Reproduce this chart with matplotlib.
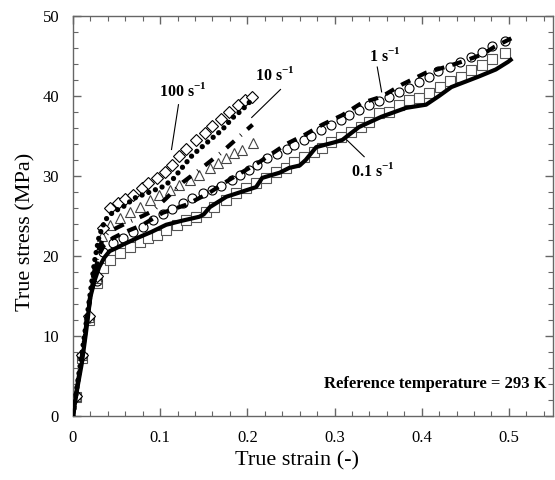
import matplotlib.pyplot as plt
from matplotlib.ticker import MultipleLocator

# experiment curves (lines)
exp01_x = [0, 0.005, 0.010, 0.015, 0.020, 0.025, 0.030, 0.036, 0.042, 0.050, 0.057, 0.065, 0.077, 0.090,
           0.107, 0.125, 0.145, 0.150, 0.157, 0.176, 0.200, 0.210, 0.217, 0.237, 0.248, 0.260, 0.267, 0.279,
           0.300, 0.309, 0.328, 0.354, 0.382, 0.405, 0.420, 0.434, 0.465, 0.485, 0.499, 0.502]
exp01_y = [0, 3.5, 6.5, 10.5, 14.9, 17.0, 18.6, 19.8, 20.6, 21.0, 21.4, 21.8, 22.4, 23.0,
           23.9, 24.4, 24.9, 25.2, 26.1, 27.4, 28.25, 28.6, 29.75, 30.4, 31.0, 31.3, 32.0, 33.6,
           34.2, 34.5, 36.1, 37.4, 38.5, 38.9, 40.0, 41.1, 42.4, 43.3, 44.25, 44.5]

exp1_x = [0, 0.005, 0.010, 0.015, 0.020, 0.025, 0.030, 0.036, 0.046, 0.060, 0.080, 0.103, 0.130, 0.155,
          0.179, 0.214, 0.245, 0.267, 0.286, 0.309, 0.331, 0.354, 0.377, 0.405, 0.427, 0.450, 0.470,
          0.483, 0.503]
exp1_y = [0, 3.8, 7.2, 11.0, 15.0, 18.0, 20.2, 21.4, 22.25, 23.0, 23.9, 25.4, 26.4, 27.8,
          29.5, 31.75, 34.0, 35.2, 36.4, 37.6, 39.1, 39.9, 41.4, 42.9, 43.6, 44.4, 45.2,
          46.1, 47.2]

exp10_x = [0, 0.005, 0.010, 0.015, 0.020, 0.025, 0.030, 0.035, 0.040, 0.050, 0.063, 0.080, 0.091,
           0.105, 0.126, 0.149, 0.170, 0.189, 0.206]
exp10_y = [0, 3.8, 7.3, 11.2, 15.2, 18.5, 21.0, 22.3, 22.9, 23.5, 24.2, 25.0, 25.6,
           27.0, 29.2, 31.1, 32.9, 34.75, 36.4]

exp100_x = [0, 0.005, 0.010, 0.015, 0.020, 0.025, 0.030, 0.037, 0.046, 0.057, 0.071, 0.086, 0.102,
            0.114, 0.125, 0.137, 0.160, 0.171, 0.183, 0.194, 0.205]
exp100_y = [0, 4.0, 7.6, 11.5, 15.5, 19.5, 22.5, 24.5, 25.5, 26.1, 27.25, 27.9, 28.6,
            29.5, 31.0, 32.6, 34.75, 35.75, 37.25, 38.25, 39.5]

# model curves (markers)
mod01_x = [0.003, 0.010, 0.018, 0.027, 0.035, 0.042, 0.054, 0.065, 0.077, 0.086, 0.096, 0.107, 0.119,
           0.130, 0.141, 0.153, 0.162, 0.176, 0.187, 0.199, 0.210, 0.221, 0.233, 0.244, 0.254, 0.265,
           0.276, 0.286, 0.296, 0.307, 0.319, 0.330, 0.339, 0.351, 0.362, 0.374, 0.385, 0.397, 0.408,
           0.421, 0.433, 0.445, 0.456, 0.469, 0.481, 0.496]
mod01_y = [2.4, 7.3, 12.0, 16.6, 18.5, 19.5, 20.4, 21.1, 21.8, 22.2, 22.6, 23.25, 23.9,
           24.5, 24.9, 25.5, 26.1, 27.0, 27.9, 28.5, 29.1, 29.75, 30.5, 31.0, 31.75, 32.4,
           33.0, 33.5, 34.25, 34.9, 35.5, 36.1, 36.75, 37.9, 38.0, 38.9, 39.5, 39.75, 40.4,
           41.1, 41.8, 42.4, 43.2, 43.9, 44.6, 45.3]

mod1_x = [0.003, 0.010, 0.018, 0.027, 0.034, 0.046, 0.057, 0.069, 0.080, 0.092, 0.103, 0.114, 0.126,
          0.137, 0.149, 0.159, 0.170, 0.182, 0.191, 0.202, 0.211, 0.223, 0.234, 0.245, 0.254, 0.265,
          0.273, 0.285, 0.296, 0.307, 0.317, 0.328, 0.339, 0.351, 0.362, 0.374, 0.385, 0.397, 0.408,
          0.419, 0.432, 0.444, 0.456, 0.469, 0.481, 0.496]
mod1_y = [2.5, 7.5, 12.3, 16.9, 20.5, 21.6, 22.3, 23.0, 23.6, 24.5, 25.2, 25.9, 26.6,
          27.25, 27.9, 28.3, 28.8, 29.5, 30.1, 30.75, 31.4, 32.2, 32.8, 33.3, 33.8, 34.5,
          35.0, 35.75, 36.4, 37.0, 37.6, 38.25, 38.9, 39.3, 39.9, 40.5, 41.0, 41.75, 42.4,
          43.1, 43.6, 44.25, 44.9, 45.5, 46.25, 46.9]

mod10_x = [0.003, 0.010, 0.018, 0.027, 0.033, 0.043, 0.054, 0.065, 0.077, 0.088, 0.099, 0.111, 0.122,
           0.134, 0.145, 0.157, 0.166, 0.176, 0.185, 0.194, 0.206]
mod10_y = [2.5, 7.6, 12.4, 17.2, 22.5, 23.9, 24.7, 25.5, 26.1, 27.0, 27.6, 28.25, 28.9,
           29.5, 30.1, 31.0, 31.6, 32.25, 32.9, 33.25, 34.1]

mod100_x = [0.003, 0.010, 0.018, 0.027, 0.035, 0.042, 0.052, 0.060, 0.069, 0.079, 0.086, 0.096, 0.105,
            0.114, 0.122, 0.130, 0.141, 0.151, 0.160, 0.170, 0.179, 0.189, 0.197, 0.205]
mod100_y = [2.5, 7.6, 12.5, 17.5, 23.5, 26.0, 26.6, 27.1, 27.6, 28.5, 29.1, 29.75, 30.5,
            31.4, 32.5, 33.3, 34.5, 35.3, 36.2, 37.1, 38.0, 38.9, 39.5, 39.9]

plt.rcParams['font.family'] = ['Liberation Serif', 'DejaVu Serif']
plt.rcParams['mathtext.fontset'] = 'custom'
plt.rcParams['mathtext.rm'] = 'Liberation Serif'
plt.rcParams['mathtext.bf'] = 'Liberation Serif:bold'

fig = plt.figure(figsize=(5.55, 4.8), dpi=100)
ax = fig.add_axes([0.1315, 0.1333, 0.864, 0.8337])

mk = dict(markerfacecolor='white', linestyle='none', markersize=6.5, markeredgewidth=0.8, zorder=2)
ax.plot(mod01_x, mod01_y, marker='s', markeredgecolor='#555555', **mk)
ax.plot(mod1_x, mod1_y, marker='o', markeredgecolor='black', **mk)
ax.plot(mod10_x, mod10_y, marker='^', markeredgecolor='#444444', **mk)
ax.plot(mod100_x, mod100_y, marker='D', markeredgecolor='black', **dict(mk, markersize=6))

ax.plot(exp01_x, exp01_y, color='black', lw=3, linestyle='-', zorder=3)
ax.plot(exp1_x, exp1_y, color='black', lw=3, linestyle=(0, (2.4, 2.0)), zorder=3)
ax.plot(exp10_x, exp10_y, color='black', lw=3, linestyle=(0, (2.5, 2.0, 0.2, 2.0)), zorder=3)
ax.plot(exp100_x, exp100_y, color='black', lw=3.8, linestyle=(0, (0.01, 1.35)),
        dash_capstyle='round', zorder=3)

lab = dict(fontsize=11.5, fontweight='bold', ha='center', va='center')
ax.text(0.126, 40.6, r'100 s$^{\mathbf{-1}}$', **lab)
ax.plot([0.121, 0.113], [38.9, 33.3], color='black', lw=0.8)
ax.text(0.232, 42.6, r'10 s$^{\mathbf{-1}}$', **lab)
ax.plot([0.238, 0.205], [40.8, 37.3], color='black', lw=0.8)
ax.text(0.358, 45.0, r'1 s$^{\mathbf{-1}}$', **lab)
ax.plot([0.349, 0.354], [43.6, 40.5], color='black', lw=0.8)
ax.text(0.344, 30.6, r'0.1 s$^{\mathbf{-1}}$', **lab)
ax.plot([0.334, 0.314], [32.4, 34.5], color='black', lw=0.8)
ax.text(0.543, 4.0, 'Reference temperature = 293 K', fontsize=12, fontweight='bold',
        ha='right', va='center')

ax.set_xlim(0, 0.55)
ax.set_ylim(0, 50)
ax.xaxis.set_major_locator(MultipleLocator(0.1))
ax.xaxis.set_minor_locator(MultipleLocator(0.02))
ax.yaxis.set_major_locator(MultipleLocator(10))
ax.yaxis.set_minor_locator(MultipleLocator(2))
ax.set_xticks([0, 0.1, 0.2, 0.3, 0.4, 0.5])
ax.set_xticklabels(['0', '0.1', '0.2', '0.3', '0.4', '0.5'])
ax.tick_params(which='both', direction='in', top=True, right=True, labelsize=12, color='#666666')
ax.tick_params(which='major', length=6, width=1, pad=10)
ax.tick_params(which='minor', length=3.5, width=0.8)
for s in ax.spines.values():
    s.set_color('#666666')
    s.set_linewidth(1.0)

ax.set_xlabel('True strain (-)', fontsize=16)
ax.set_ylabel('True stress (MPa)', fontsize=16)
ax.xaxis.set_label_coords(0.467, -0.088)
ax.yaxis.set_label_coords(-0.078, 0.46)

fig.savefig('out.png', dpi=100)
